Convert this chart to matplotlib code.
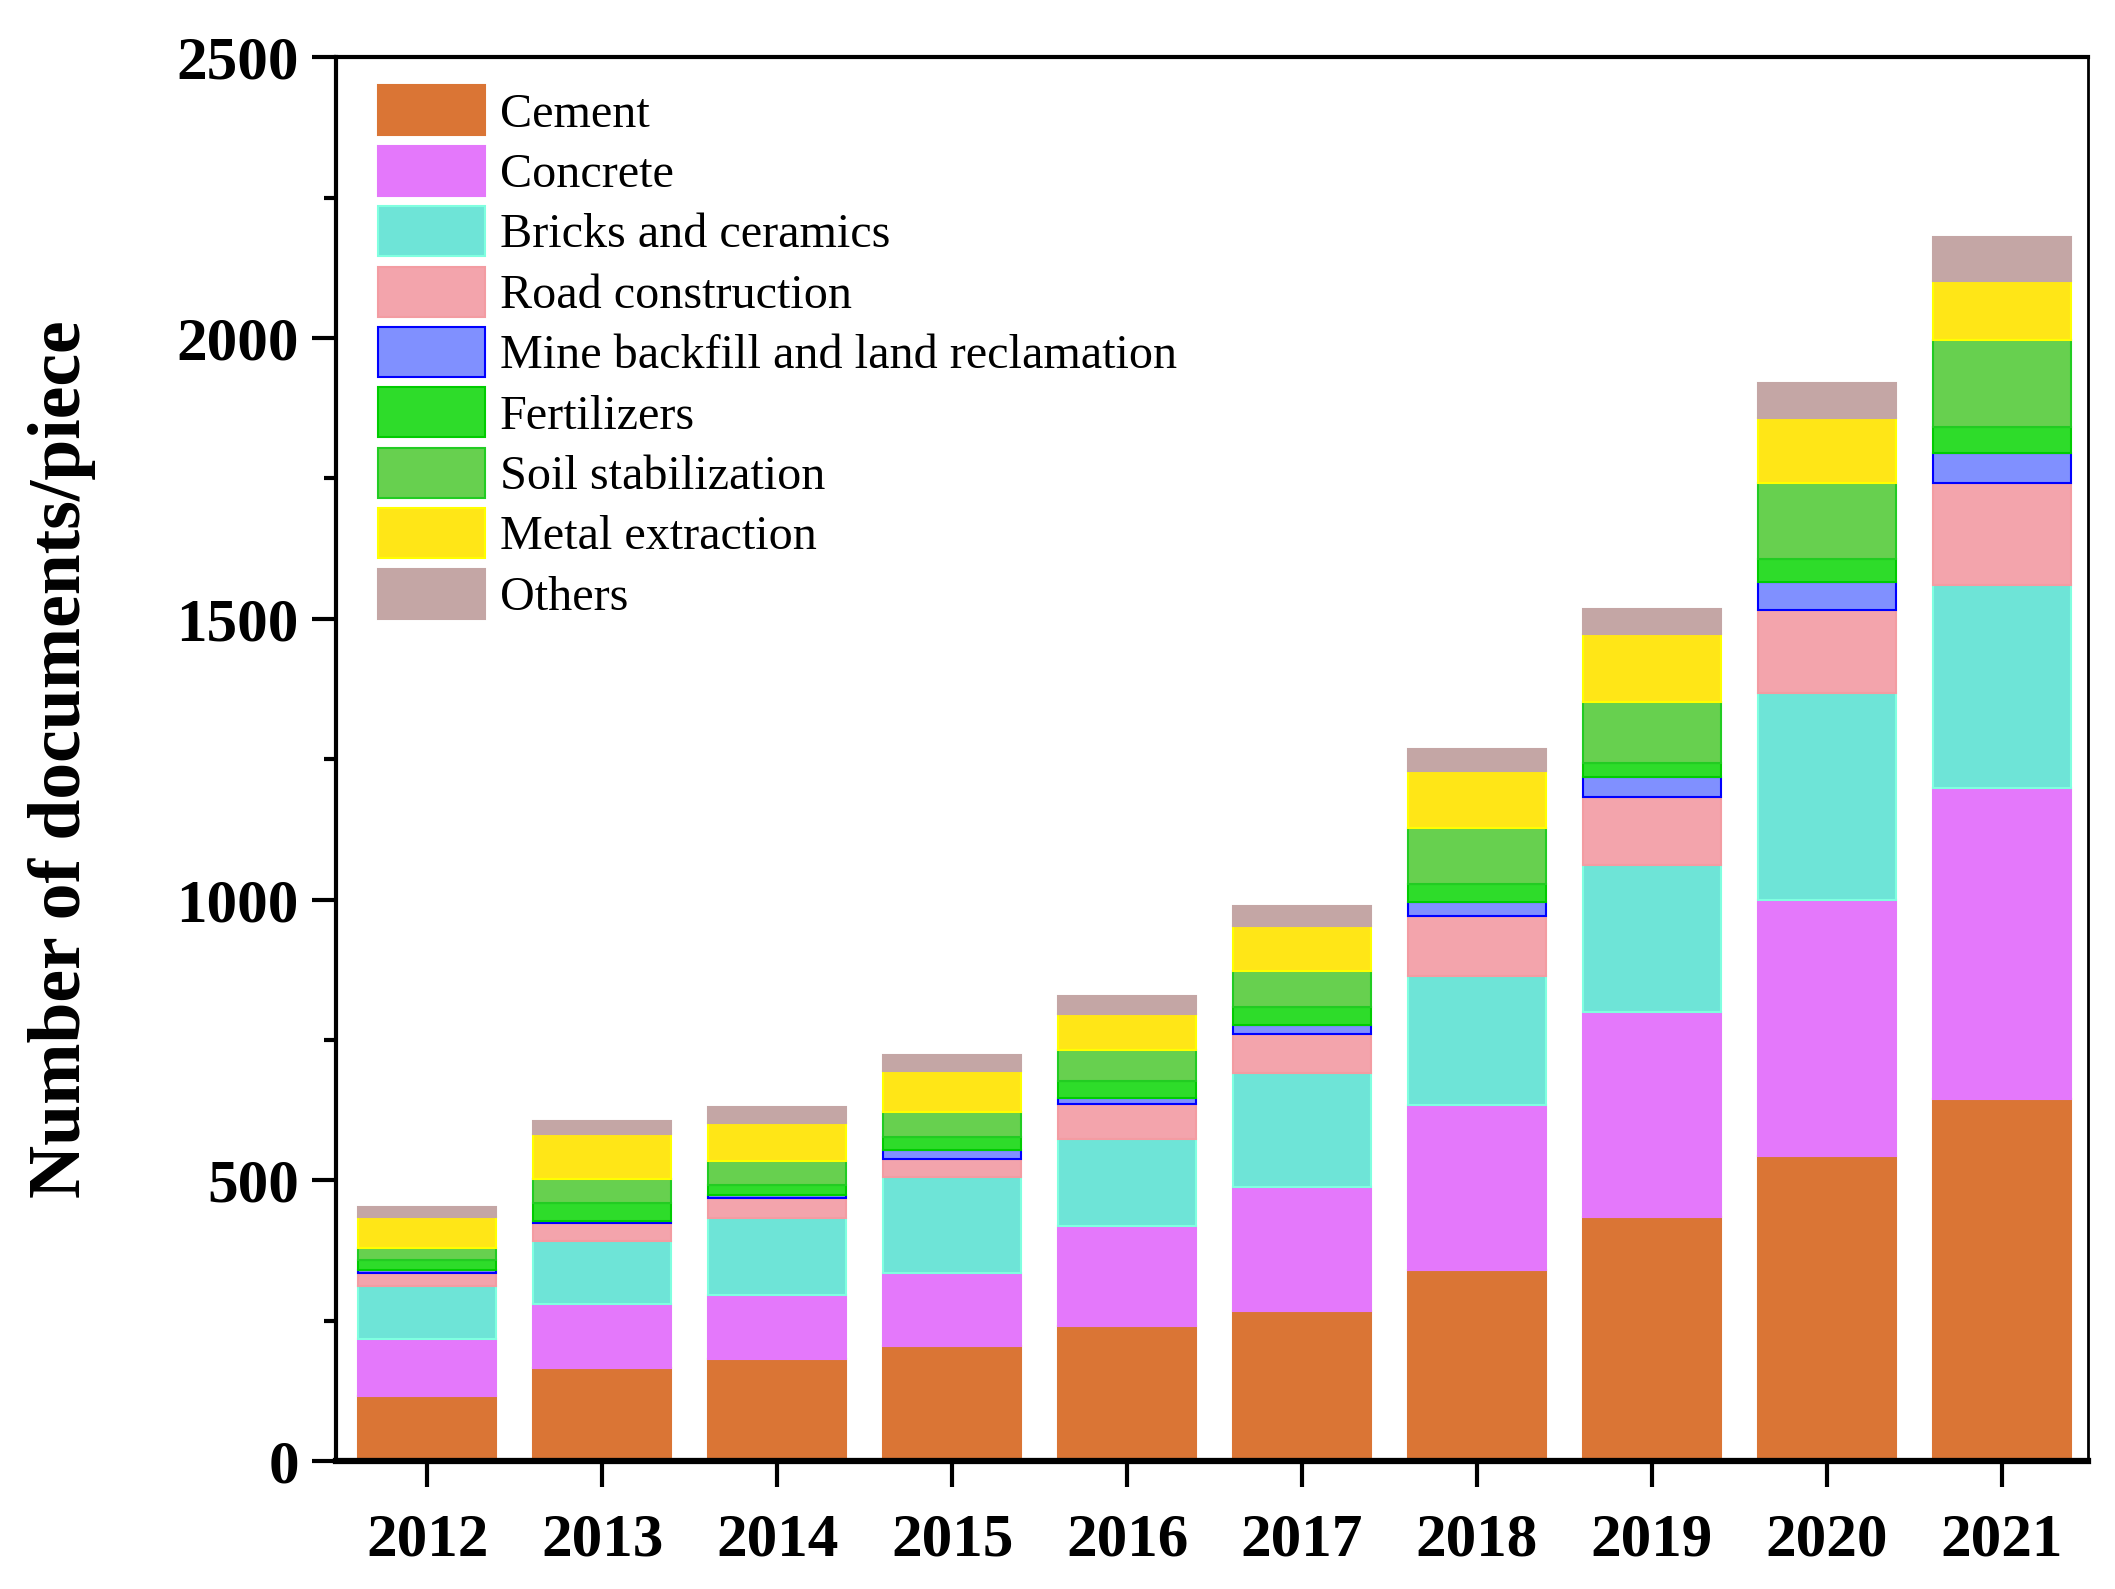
import numpy as np
import matplotlib
matplotlib.use("Agg")
import matplotlib.pyplot as plt
from matplotlib.ticker import MultipleLocator

plt.rcParams["font.family"] = ["Liberation Serif", "DejaVu Serif"]

years = ["2012", "2013", "2014", "2015", "2016", "2017", "2018", "2019", "2020", "2021"]

# segment heights (documents per year)
cement = [116, 165, 181, 205, 241, 268, 341, 435, 544, 645]
concrete = [102, 115, 115, 130, 178, 220, 293, 364, 455, 553]
bricks = [94, 112, 136, 171, 154, 203, 230, 263, 369, 363]
road = [23, 32, 37, 32, 62, 69, 106, 120, 148, 180]
mine = [6, 4, 4, 16, 12, 17, 25, 36, 49, 54]
fertilizers = [17, 31, 18, 23, 30, 32, 33, 26, 42, 46]
soil = [21, 43, 43, 45, 55, 64, 100, 108, 135, 155]
metal = [56, 80, 68, 73, 64, 79, 100, 120, 115, 105]
others = [17, 24, 29, 29, 32, 37, 40, 46, 63, 78]

labels = ["Cement", "Concrete", "Bricks and ceramics", "Road construction",
          "Mine backfill and land reclamation", "Fertilizers", "Soil stabilization",
          "Metal extraction", "Others"]
series = [cement, concrete, bricks, road, mine, fertilizers, soil, metal, others]
faces = ["#DA7535", "#E478FB", "#6EE4D7", "#F3A4AC", "#8090FF",
         "#2EDC2A", "#67D04F", "#FFE617", "#C4A6A5"]
edges = ["#DA7535", "#E478FB", "#80FFE0", "#F39CA2", "#0000FF",
         "#00CC00", "#22CC22", "#FFFF00", "#C4A6A5"]

fig = plt.figure(figsize=(21.15, 15.89), dpi=100)
ax = fig.add_axes([0.159, 0.0805, 0.828, 0.8835])

x = np.arange(len(years))
bottom = np.zeros(len(years))
for vals, lab, fc, ec in zip(series, labels, faces, edges):
    ax.bar(x, vals, 0.79, bottom=bottom, color=fc, edgecolor=ec, linewidth=1.5, label=lab)
    bottom += np.array(vals)

ax.set_xlim(-0.52, 9.49)
ax.set_ylim(0, 2500)
ax.set_xticks(x)
ax.set_xticklabels(years)
ax.yaxis.set_major_locator(MultipleLocator(500))
ax.yaxis.set_minor_locator(MultipleLocator(250))

for t in ax.get_xticklabels() + ax.get_yticklabels():
    t.set_fontweight("bold")
    t.set_fontsize(44)
ax.tick_params(axis="y", which="major", direction="out", length=17, width=3, pad=10)
ax.tick_params(axis="y", which="minor", direction="out", length=9, width=3)
ax.tick_params(axis="x", which="major", direction="out", length=19, width=3, pad=18)

for side in ["left", "top"]:
    ax.spines[side].set_linewidth(3)
ax.spines["right"].set_linewidth(2)
ax.spines["bottom"].set_linewidth(4.5)

ax.set_ylabel("Number of documents/piece", fontsize=53, fontweight="bold")
ax.yaxis.set_label_coords(-0.137, 0.5)

ax.legend(loc="upper left", bbox_to_anchor=(0.024, 0.98), frameon=False,
          fontsize=34.7, handlelength=2.22, handleheight=1.22, handletextpad=0.3,
          labelspacing=0.19, borderpad=0, borderaxespad=0)

fig.savefig("out.png", dpi=100)
